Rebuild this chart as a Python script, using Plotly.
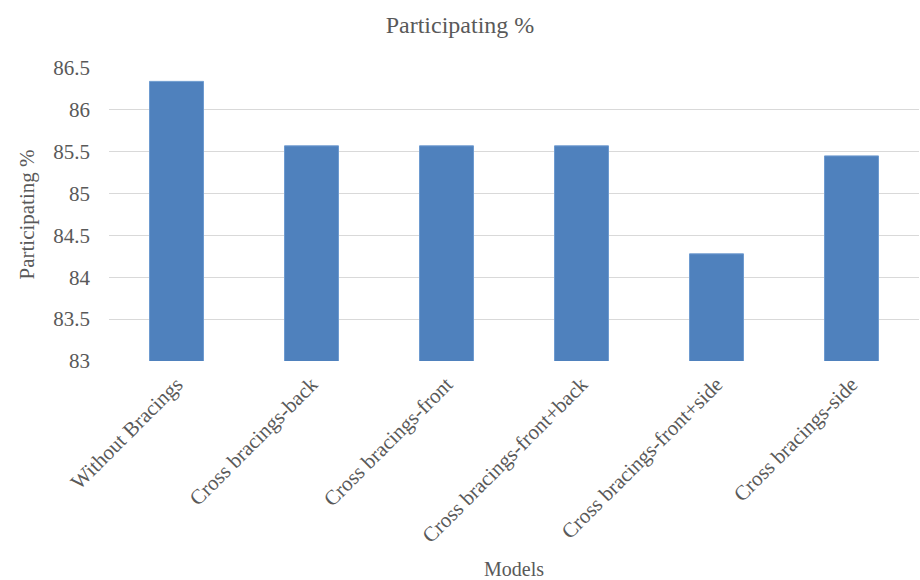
import plotly.graph_objects as go

categories = ["Without Bracings", "Cross bracings-back", "Cross bracings-front",
              "Cross bracings-front+back", "Cross bracings-front+side", "Cross bracings-side"]
values = [86.34, 85.57, 85.57, 85.57, 84.28, 85.45]
y_ticks = [83, 83.5, 84, 84.5, 85, 85.5, 86, 86.5]
y_labels = ["83", "83.5", "84", "84.5", "85", "85.5", "86", "86.5"]

FONT = "'Times New Roman', 'Liberation Serif', serif"
GREY = "#595959"

fig = go.Figure(go.Bar(
    x=categories, y=values,
    marker=dict(color="#4F81BD", line=dict(color="#6E9BD0", width=1)),
))

fig.update_layout(
    width=920, height=580,
    margin=dict(l=109, r=1, t=68, b=219),
    paper_bgcolor="white", plot_bgcolor="white",
    bargap=0.6,
    showlegend=False,
    font=dict(family=FONT, color=GREY, size=20),
    title=dict(text="Participating %", x=0.5, xanchor="center", y=0.957, yanchor="middle",
               font=dict(family=FONT, size=24, color=GREY)),
    xaxis=dict(
        tickangle=-45, tickfont=dict(family=FONT, size=21, color=GREY),
        showgrid=False, showline=False, ticks="",
        ticklabelstandoff=6, automargin=False,
        title=dict(text="Models", font=dict(family=FONT, size=20, color=GREY), standoff=25),
    ),
    yaxis=dict(
        range=[83, 86.5], tickvals=y_ticks, ticktext=y_labels,
        tickfont=dict(family=FONT, size=21, color=GREY),
        showgrid=True, gridcolor="#D9D9D9", gridwidth=1.3,
        zeroline=False, showline=False, ticks="",
        ticklabelstandoff=18, automargin=False,
        title=dict(text="Participating %", font=dict(family=FONT, size=21, color=GREY), standoff=12),
    ),
)

fig.write_html("out.html")
